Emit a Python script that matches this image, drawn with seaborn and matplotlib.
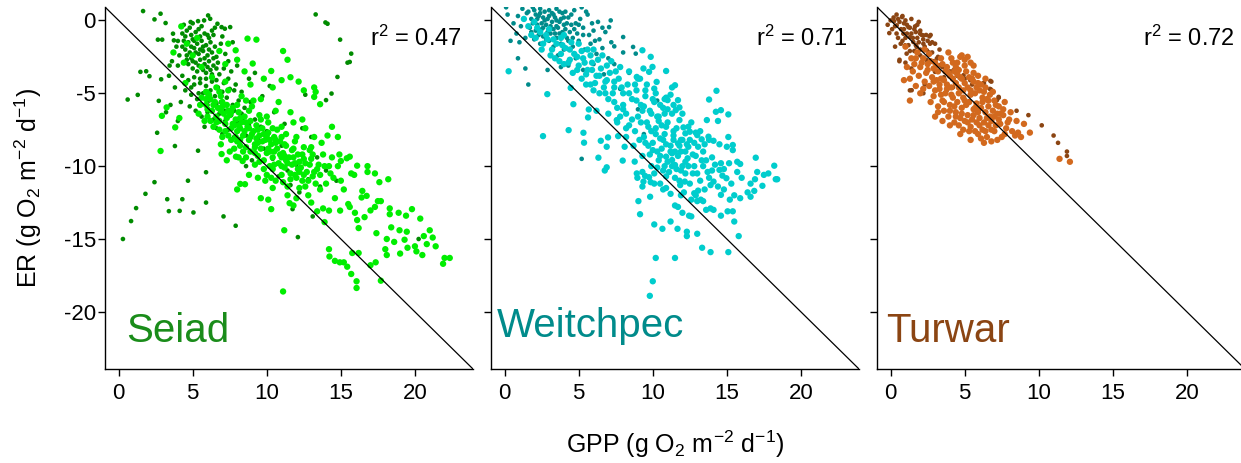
import matplotlib
matplotlib.use("Agg")
import matplotlib.pyplot as plt
import pandas as pd
import seaborn as sns

sns.set_style("ticks")
plt.rcParams["font.family"] = ["Liberation Sans", "DejaVu Sans"]
plt.rcParams["mathtext.fontset"] = "custom"
plt.rcParams["mathtext.rm"] = "Liberation Sans"
plt.rcParams["mathtext.it"] = "Liberation Sans:italic"
plt.rcParams["mathtext.bf"] = "Liberation Sans:bold"
plt.rcParams["axes.unicode_minus"] = False
plt.rcParams["text.color"] = "black"

# ---------------- data (GPP, ER) ----------------
sites = ["Seiad", "Weitchpec", "Turwar"]
r2_values = [0.47, 0.71, 0.72]
x_ticks = [0, 5, 10, 15, 20]
y_ticks = [0, -5, -10, -15, -20]

seiad_dark = [
    (1.65, 0.64), (2.83, 0.46), (2.42, 0.07), (3.17, -0.18), (6.04, 0.34), (6.18, 0.11), (5.77, 0.0),
    (13.3, 0.41), (13.96, -0.14), (14.1, -0.23), (14.95, -1.32), (15.7, -2.28), (15.6, -2.85), (15.45, -2.9),
    (14.77, -3.88), (14.37, -5.02), (14.0, -5.47), (2.65, -1.32), (2.94, -1.32), (1.47, -3.53), (1.86, -3.49),
    (2.08, -3.83), (2.87, -4.04), (3.44, -3.1), (0.61, -5.43), (1.29, -5.11), (2.71, -5.52), (2.6, -7.71),
    (3.8, -8.62), (5.36, -8.94), (5.9, -10.42), (4.68, -11.0), (2.42, -11.1), (1.81, -11.9), (1.18, -12.88),
    (0.84, -13.77), (0.29, -15.0), (3.28, -12.27), (4.3, -12.27), (3.39, -13.09), (4.12, -13.07), (5.05, -13.18),
    (5.9, -12.5), (7.08, -13.45), (7.9, -14.09), (12.1, -14.87), (11.74, -12.95), (13.1, -13.45), (20.25, -15.0),
    (4.86, -0.11), (5.36, -0.05), (6.67, -0.23), (6.95, -0.46), (7.17, -0.57), (7.53, -0.46), (3.67, -0.91),
    (3.73, -1.37), (4.0, -1.41),
    (4.3, -0.9), (4.6, -0.7), (4.9, -1.0), (5.2, -0.8), (5.5, -1.1), (5.8, -0.9), (6.1, -1.2), (6.4, -1.0),
    (4.4, -1.4), (4.7, -1.5), (5.0, -1.3), (5.3, -1.6), (5.6, -1.4), (5.9, -1.7), (6.2, -1.5), (6.5, -1.8),
    (4.5, -2.0), (4.8, -2.2), (5.1, -1.9), (5.4, -2.3), (5.7, -2.1), (6.0, -2.4), (6.3, -2.2), (6.6, -2.5),
    (4.6, -2.7), (4.9, -2.6), (5.2, -2.9), (5.5, -2.7), (5.8, -3.0), (6.1, -2.8), (6.4, -3.1), (6.7, -2.9),
    (5.0, -3.3), (5.3, -3.5), (5.9, -3.6), (6.2, -3.4), (6.8, -3.7), (7.1, -3.3), (6.9, -1.6), (7.2, -2.3),
    (7.4, -2.8), (7.6, -3.5), (4.1, -2.4), (3.9, -1.8), (4.0, -3.1),
    (4.3, -3.8), (4.7, -4.1), (5.1, -4.4), (5.5, -4.0), (5.9, -4.5), (6.3, -4.2), (6.7, -4.6), (7.1, -4.3),
    (7.5, -4.7), (7.9, -4.4), (8.3, -4.9), (4.5, -4.8), (4.9, -5.1), (5.3, -5.4), (5.7, -5.0), (6.1, -5.5),
    (6.5, -5.2), (6.9, -5.6), (7.3, -5.3), (7.7, -5.8), (8.1, -5.5), (8.5, -6.0), (8.9, -5.6), (4.8, -5.9),
    (5.2, -6.2), (5.6, -6.6), (6.0, -6.3), (6.4, -6.8), (6.8, -6.4), (7.2, -6.9), (7.6, -6.5), (8.0, -7.0),
    (8.4, -6.7), (8.8, -7.2), (9.2, -6.8), (9.6, -7.3), (6.6, -7.4), (7.0, -7.8), (7.4, -7.5), (7.8, -8.0),
    (8.6, -7.9), (9.4, -8.1), (10.0, -7.6), (5.8, -7.3), (4.2, -5.6), (3.8, -4.6), (3.5, -5.8), (4.0, -6.9),
    (3.2, -6.3),
    (9.8, -8.8), (10.4, -9.5), (11.0, -8.6), (11.4, -10.3), (12.0, -9.9), (12.4, -7.4), (12.8, -10.9),
    (11.6, -11.3), (10.8, -10.7), (13.4, -9.4), (13.0, -8.0), (9.0, -9.6), (8.6, -10.0), (12.2, -11.8),
    (13.6, -11.4), (10.5, -6.3), (11.2, -7.1), (9.7, -5.2), (8.8, -4.0), (8.0, -3.1), (9.2, -3.6),
    (10.2, -4.5), (12.6, -5.1), (14.0, -10.3), (14.7, -11.0),
    (4.5, -1.1), (4.8, -0.5), (5.1, -1.4), (5.4, -0.6), (5.7, -1.8), (6.0, -1.0), (6.3, -0.7), (4.3, -1.8),
    (4.6, -2.4), (4.9, -1.8), (5.2, -2.2), (5.5, -2.0), (5.8, -2.6), (6.1, -2.0), (6.4, -2.6), (4.7, -3.0),
    (5.0, -2.8), (5.4, -3.1), (5.7, -3.4), (6.0, -3.2), (6.3, -3.7), (6.6, -3.3), (5.1, -3.9), (5.5, -4.3),
    (5.9, -4.0), (6.2, -4.8), (6.6, -4.1), (7.0, -4.9), (7.4, -4.0), (7.8, -4.8), (4.9, -4.6), (5.4, -5.0),
    (6.0, -5.8), (6.6, -5.7), (7.2, -6.2), (7.8, -6.2), (8.3, -6.4), (4.4, -0.3), (5.0, -0.2), (5.6, -0.4),
    (6.5, -0.5), (3.6, -2.8), (3.4, -3.8), (7.0, -1.1), (7.7, -1.5),
]

seiad_light = [
    (4.23, -0.41), (2.92, -6.55), (3.24, -5.97), (4.1, -6.7), (3.82, -7.34), (2.83, -8.96), (8.21, -11.22),
    (8.53, -11.24), (6.95, -9.17), (7.92, -9.35), (8.37, -9.65), (11.1, -18.6), (11.18, -14.4), (11.54, -12.54),
    (10.3, -12.95), (10.1, -12.3), (13.9, -13.84), (13.4, -13.1), (14.2, -13.05), (14.95, -13.05), (15.5, -12.6),
    (15.95, -13.2), (16.1, -13.7), (16.2, -14.25), (14.2, -15.7), (14.23, -16.2), (14.6, -16.5), (14.93, -16.6),
    (15.2, -16.6), (15.43, -16.9), (15.7, -17.4), (16.06, -17.9), (16.06, -18.36), (15.77, -15.96), (16.2, -15.96),
    (17.0, -16.8), (17.35, -16.6), (17.7, -17.86), (18.0, -15.7), (18.1, -16.1), (18.1, -15.0), (18.6, -15.2),
    (17.0, -13.04), (17.3, -12.8), (17.5, -12.4), (17.7, -12.4), (18.3, -13.3), (18.3, -12.9), (18.9, -13.2),
    (19.4, -13.4), (19.8, -12.95), (20.36, -13.6), (18.96, -14.4), (19.45, -14.5), (19.3, -15.05), (19.5, -15.6),
    (20.0, -15.5), (20.1, -15.85), (20.5, -16.1), (20.6, -14.8), (21.0, -14.4), (21.2, -14.9), (21.4, -15.5),
    (20.8, -15.35), (21.9, -16.7), (22.0, -16.3), (22.35, -16.3), (18.2, -10.9), (17.6, -11.1), (17.3, -10.5),
    (16.8, -10.4), (16.8, -10.0), (16.45, -11.7), (16.74, -12.04), (16.4, -12.15), (16.1, -9.97), (15.7, -10.5),
    (15.9, -10.6), (14.9, -9.2), (15.0, -9.65), (14.8, -10.0), (15.4, -9.46), (15.6, -9.35), (14.4, -7.3),
    (14.8, -8.0), (14.1, -7.9), (13.6, -5.75), (13.2, -5.25), (13.2, -4.6), (13.3, -4.9), (12.5, -4.8),
    (12.15, -4.2), (11.6, -3.9), (11.1, -2.1), (11.4, -2.7), (10.3, -3.47), (11.0, -4.1), (10.4, -4.6),
    (8.7, -1.25), (9.05, -2.96), (9.3, -1.32), (7.9, -2.05), (7.4, -1.6), (9.8, -4.0),
    (4.6, -1.6), (5.0, -2.4), (5.3, -1.2), (4.4, -2.9), (5.6, -3.2), (6.3, -3.9), (6.8, -2.1), (7.2, -3.0),
    (8.0, -2.7), (8.5, -3.5), (8.9, -4.4), (3.7, -2.2), (5.9, -4.9), (4.5, -4.3),
    (5.6, -5.3), (5.9, -5.8), (6.1, -5.1), (6.3, -6.2), (6.0, -6.6), (6.5, -5.6), (6.7, -6.0), (6.9, -5.2),
    (7.1, -6.4), (6.8, -6.9), (7.3, -5.8), (7.5, -6.5), (7.2, -7.1), (7.7, -6.0), (7.9, -6.8), (7.6, -7.4),
    (8.1, -6.3), (8.3, -7.0), (8.0, -7.6), (8.5, -6.6), (8.7, -7.3), (8.4, -7.9), (8.9, -6.9), (9.1, -7.6),
    (8.8, -8.2), (9.3, -7.2), (9.5, -7.9), (9.2, -8.5), (9.7, -7.4), (9.9, -8.2), (9.6, -8.8), (10.1, -7.7),
    (10.3, -8.5), (10.0, -9.1), (10.5, -8.0), (10.7, -8.8), (10.4, -9.4), (10.9, -8.3), (11.1, -9.1),
    (10.8, -9.8), (11.3, -8.6), (11.5, -9.4), (11.2, -10.1), (11.7, -8.9), (11.9, -9.8), (11.6, -10.5),
    (12.1, -9.2), (12.3, -10.1), (12.0, -10.8), (12.5, -9.5), (12.7, -10.4), (12.4, -11.0), (12.9, -9.9),
    (13.1, -10.7), (13.4, -10.2), (13.3, -11.2),
    (7.0, -8.0), (8.2, -8.6), (9.4, -9.3), (6.4, -7.3), (5.8, -6.9), (10.2, -10.0), (11.0, -10.6), (12.2, -11.5),
    (9.0, -5.9), (10.0, -6.6), (11.0, -7.3), (12.0, -8.0), (13.0, -8.7), (12.6, -7.4), (11.8, -7.0), (10.6, -6.2),
    (13.8, -9.2), (14.2, -10.0), (13.6, -11.6), (12.8, -12.0), (11.4, -11.4), (10.6, -11.0), (9.8, -10.2),
    (8.6, -9.4), (7.8, -8.8), (14.5, -10.8), (15.0, -11.0), (13.2, -8.0), (12.4, -6.8), (11.6, -6.3),
    (10.8, -5.6), (9.6, -5.4), (8.6, -5.5), (7.4, -4.8), (6.6, -4.6), (7.2, -4.2),
    (6.2, -5.4), (6.6, -6.6), (7.4, -6.2), (7.8, -7.2), (8.2, -7.4), (8.6, -7.0), (9.0, -7.8), (9.4, -8.4),
    (9.8, -7.8), (10.2, -8.2), (10.6, -8.4), (11.0, -9.4), (11.4, -9.8), (11.8, -9.4), (12.2, -10.4),
    (12.6, -9.8), (11.0, -8.0), (10.4, -7.4), (9.6, -6.8), (8.8, -6.2), (8.0, -5.8), (7.0, -5.6), (6.8, -4.9),
    (12.8, -11.0), (13.6, -10.6), (14.0, -11.2), (11.4, -12.0), (10.4, -11.5), (9.4, -10.8), (8.8, -10.6),
    (12.9, -8.9), (13.7, -8.4), (14.4, -9.4), (8.4, -9.0), (7.6, -8.2), (7.3, -9.6), (9.2, -9.9), (10.0, -10.6),
    (12.0, -12.2), (13.0, -12.5), (11.8, -12.7), (14.6, -12.2), (15.2, -11.6), (15.6, -12.8), (16.6, -13.5),
    (17.4, -14.6), (18.4, -14.2), (19.0, -16.0), (13.8, -12.9), (8.0, -11.6), (9.6, -12.2),
    (6.4, -5.8), (6.9, -6.2), (7.3, -6.7), (7.7, -7.1), (8.1, -7.2), (8.5, -7.6), (8.9, -8.0), (9.3, -8.1),
    (9.7, -8.3), (10.1, -8.8), (10.5, -9.0), (10.9, -9.2), (11.3, -9.6), (11.7, -9.9), (12.1, -10.2),
    (12.5, -10.6), (6.2, -6.9), (6.8, -7.5), (7.4, -7.9), (8.0, -8.3), (8.6, -8.7), (9.2, -9.1), (9.8, -9.6),
    (10.4, -10.2), (11.0, -10.0), (11.6, -10.9), (7.0, -5.9), (7.6, -6.3), (8.2, -6.7), (8.8, -7.4), (9.4, -7.5),
    (10.0, -7.9), (10.6, -8.2), (11.2, -8.5), (11.8, -8.8), (12.4, -9.2), (13.0, -9.5), (13.5, -9.9),
    (9.5, -6.5), (10.1, -7.0), (10.7, -7.5), (11.3, -7.8), (11.9, -8.3), (12.5, -8.7), (13.1, -9.2), (8.3, -5.2),
    (9.1, -5.5), (6.0, -5.0), (5.5, -5.8), (5.4, -6.4), (6.9, -8.5), (7.5, -9.0), (8.1, -9.4), (10.3, -10.8),
    (11.1, -11.1), (11.9, -10.6), (12.6, -11.4), (13.9, -10.0), (14.3, -10.5), (9.9, -11.0), (8.9, -9.0),
    (7.9, -8.0), (9.5, -9.7), (10.5, -9.9), (13.2, -10.4), (12.2, -9.7), (11.2, -9.3), (10.2, -9.0), (9.2, -8.7),
    (8.2, -8.2), (7.2, -7.6), (6.6, -7.0), (6.0, -6.1), (5.9, -5.4),
]

weitchpec_dark = [
    (0.1, 0.9), (0.2, 0.4), (0.6, -0.2), (0.9, 0.3), (1.2, 0.8), (1.5, 0.5), (1.8, 0.1), (2.0, 0.7), (2.3, 0.3),
    (2.5, -0.2), (2.7, 0.6), (2.9, 0.1), (3.1, -0.4), (3.3, 0.4), (3.5, 0.8), (3.7, -0.1), (3.9, 0.5), (4.1, -0.6),
    (4.3, 0.2), (4.5, -0.3), (4.7, 0.7), (4.9, -0.9), (5.1, 0.1), (5.3, -0.5), (5.5, 0.6), (2.1, -0.7),
    (2.6, -1.1), (3.0, -1.4), (3.4, -0.9), (3.8, -1.6), (4.2, -1.2), (4.6, -1.8), (5.0, -1.4), (5.4, -2.0),
    (5.8, -1.6), (6.2, -2.3), (6.6, -1.9), (7.0, -2.6), (7.4, -3.0), (1.7, -0.5), (1.4, -1.2), (2.4, -1.6),
    (1.0, -1.5), (0.4, -1.4), (0.9, -2.6), (1.4, -3.3), (1.6, -4.4), (2.9, -3.4), (3.8, -3.2), (4.3, -3.1),
    (5.3, -3.4), (6.7, -3.7), (7.8, -4.7), (5.2, -9.5), (9.4, -7.8), (6.8, -0.8), (7.2, -1.5), (8.0, -2.2),
    (5.2, 0.9), (5.6, 0.4), (7.05, -0.46), (7.16, 0.0), (8.0, -1.14), (8.67, -1.82), (8.85, -2.28), (7.4, -1.78),
    (2.2, 0.1), (2.4, 0.5), (2.6, 0.2), (2.8, -0.3), (3.0, 0.3), (3.2, -0.1), (3.4, 0.2), (3.6, -0.5),
    (3.8, 0.1), (4.0, -0.3), (2.5, -0.6), (2.9, -0.8), (3.3, -0.6), (3.7, -0.9), (4.1, 0.6), (4.4, -0.8),
    (1.9, -0.2), (2.3, -1.0), (3.5, -1.2), (4.8, -0.2), (6.0, -0.7), (6.4, -1.3), (5.7, -1.0), (8.4, -3.6),
    (6.0, -3.0), (10.3, -5.5), (9.0, -6.1), (13.0, -7.8),
    (1.6, 0.6), (1.9, 0.9), (2.1, 0.4), (2.4, 0.8), (2.7, 0.0), (3.0, 0.7), (3.2, 0.5), (3.5, 0.0), (3.7, 0.6),
    (4.0, 0.2), (4.2, -0.2), (4.5, 0.4), (4.7, -0.6), (5.0, -0.3), (2.2, -0.3), (2.6, -0.5), (3.1, -0.9),
    (3.5, -0.4), (3.9, -0.8), (4.3, -1.4), (1.8, -0.8), (2.0, -1.3), (2.8, -1.3), (3.3, -1.8), (4.0, -2.0),
    (4.6, -1.2), (5.3, -1.0), (5.9, -0.2), (6.3, -0.1), (6.6, -0.5), (1.1, -0.4), (0.8, -0.9), (3.6, -2.4),
    (4.8, -2.6), (6.1, -1.4),
]

weitchpec_light = [
    (0.27, -3.49), (2.88, -5.06), (2.59, -7.94), (4.32, -7.53), (4.64, -5.75), (4.46, -4.63), (5.36, -8.39),
    (5.32, -7.71), (6.33, -9.42), (6.76, -10.3), (6.89, -10.08), (6.49, -8.26), (6.98, -8.03), (6.89, -8.67),
    (5.63, -6.66), (5.68, -6.11), (7.66, -7.94), (7.57, -6.84), (8.1, -8.67), (7.97, -9.62), (8.78, -9.69),
    (9.03, -12.4), (9.14, -13.3), (8.92, -10.5), (9.3, -11.4), (9.82, -12.1), (9.86, -11.1), (10.1, -11.2),
    (10.1, -14.0), (10.65, -14.3), (11.2, -13.8), (10.2, -16.3), (11.5, -16.3), (10.0, -17.9), (9.8, -18.9),
    (11.67, -14.3), (12.3, -14.5), (12.3, -14.8), (13.0, -14.64), (13.33, -15.6), (13.9, -15.9), (15.1, -15.9),
    (15.8, -14.8), (11.5, -12.7), (11.7, -12.8), (12.0, -13.2), (12.45, -13.4), (12.6, -13.45), (14.6, -13.4),
    (15.05, -13.1), (15.4, -13.1), (15.5, -13.8), (13.6, -13.0), (13.9, -12.9), (14.1, -13.0), (16.6, -12.1),
    (16.85, -11.7), (16.6, -11.2), (15.9, -12.2), (15.5, -12.0), (14.6, -11.97), (14.8, -11.6), (15.2, -12.3),
    (16.95, -9.42), (18.2, -9.97), (18.4, -10.9), (18.3, -10.9), (17.5, -10.6), (17.05, -10.4), (17.4, -11.35),
    (15.1, -8.0), (15.4, -8.55), (15.4, -8.9), (15.0, -8.67), (14.3, -4.83), (14.26, -6.27), (14.6, -6.16),
    (15.1, -6.45), (14.4, -6.9), (13.8, -5.43), (13.65, -6.84), (15.15, -9.8), (15.7, -9.7), (15.9, -9.85),
    (15.7, -10.4), (13.06, -8.67), (13.3, -8.16), (13.76, -7.98), (14.1, -8.26), (14.5, -8.5), (12.8, -10.0),
    (13.4, -10.0), (13.7, -10.4), (14.0, -10.3), (14.5, -10.26), (14.7, -10.65), (14.97, -10.83), (14.1, -11.06),
    (13.9, -11.3), (13.5, -11.6), (12.5, -11.2), (12.16, -11.06), (11.85, -11.3), (12.8, -11.86), (13.06, -11.68),
    (13.24, -12.3), (13.4, -12.4), (13.0, -12.4), (12.2, -10.5), (12.7, -10.5), (11.9, -10.3), (11.5, -9.92),
    (11.1, -10.4), (10.8, -10.0), (11.3, -10.0), (10.5, -11.2), (10.7, -11.6), (10.9, -11.5), (10.1, -10.5),
    (9.75, -10.76), (9.48, -10.67), (9.37, -11.06), (8.96, -10.8), (9.3, -10.4), (9.3, -2.05), (9.86, -2.5),
    (9.98, -3.19), (9.75, -3.53), (9.37, -3.3), (8.92, -3.88), (9.14, -4.0), (10.9, -3.47), (10.1, -4.68),
    (10.26, -4.22), (11.3, -4.6), (11.5, -4.45), (11.2, -5.1), (11.0, -5.47), (11.7, -5.47), (11.8, -5.97),
    (11.55, -6.16), (10.9, -5.3), (10.8, -6.4), (10.3, -6.6), (11.8, -6.84), (12.4, -7.3), (12.5, -7.64),
    (12.07, -7.34), (12.9, -7.7), (13.0, -7.87), (12.2, -7.75), (12.4, -8.67), (11.7, -8.44), (11.9, -9.0),
    (11.3, -9.12), (10.9, -9.35), (11.3, -9.58), (12.35, -9.46),
    (1.6, -0.4), (1.8, -1.0), (2.1, -1.2), (2.4, -0.8), (2.6, -1.6), (2.9, -1.3), (3.2, -2.0), (3.5, -1.6),
    (3.8, -2.3), (4.1, -1.9), (4.4, -2.7), (4.7, -2.3), (5.0, -3.1), (5.3, -2.6), (5.6, -3.4), (5.9, -2.9),
    (6.2, -3.8), (6.5, -3.3), (6.8, -4.2), (7.1, -3.6), (7.4, -4.6), (7.7, -4.0), (8.0, -5.0), (8.3, -4.4),
    (8.6, -5.4), (8.9, -4.8), (9.2, -5.8), (9.5, -5.2), (9.8, -6.2), (10.1, -5.6), (10.4, -6.6), (10.7, -6.0),
    (11.0, -7.0), (11.3, -6.4), (11.6, -7.4), (9.0, -6.6), (9.6, -7.0), (10.2, -7.4), (10.8, -7.8), (11.4, -8.2),
    (9.4, -8.0), (10.0, -8.4), (10.6, -8.8), (11.2, -9.0), (9.8, -9.2), (10.4, -9.6), (11.8, -8.6), (12.2, -9.0),
    (8.4, -7.2), (8.8, -7.6), (7.6, -6.0), (8.2, -6.4), (7.0, -5.4), (6.4, -5.0), (5.8, -4.4), (5.2, -4.0),
    (4.6, -3.6), (4.0, -3.0), (3.4, -2.6), (6.0, -2.0), (6.6, -2.4), (7.2, -2.8), (7.8, -3.2), (8.4, -3.5),
    (9.0, -4.0), (9.6, -4.4), (10.2, -5.0), (10.8, -5.4), (11.4, -5.8), (12.0, -6.4), (12.6, -7.0), (13.2, -7.6),
    (13.8, -8.2), (12.8, -8.4), (13.4, -9.0), (14.0, -9.4), (14.6, -9.8), (2.0, -0.1), (1.3, 0.1), (3.0, -0.6),
    (4.0, -1.0), (5.0, -1.6), (5.6, -2.0),
    (9.9, -7.6), (10.5, -8.1), (10.9, -8.5), (10.3, -9.0), (9.7, -8.6), (9.1, -8.2), (9.9, -10.0), (10.7, -10.3),
    (11.5, -10.8), (12.1, -11.8), (13.2, -11.0), (12.6, -12.3), (11.9, -12.0), (11.2, -11.9), (14.4, -11.4),
    (13.6, -9.6), (12.9, -9.3), (12.5, -8.2), (10.6, -7.2), (9.3, -6.2), (8.6, -6.8), (8.0, -5.8), (7.3, -5.0),
    (6.7, -4.6), (6.1, -4.3), (5.5, -3.7), (4.9, -3.4), (4.3, -2.9), (3.7, -2.8), (3.1, -2.4), (2.5, -2.0),
    (7.6, -7.0), (8.2, -8.0), (7.0, -6.4), (6.2, -6.2), (11.4, -7.6), (12.0, -8.2),
    (2.2, -0.5), (2.8, -1.0), (3.3, -1.3), (3.9, -1.7), (4.4, -2.0), (4.9, -2.5), (5.4, -2.9), (5.9, -3.4),
    (6.4, -3.8), (6.9, -4.1), (7.4, -4.2), (7.9, -4.6), (8.4, -5.0), (8.9, -5.5), (9.4, -5.9), (9.9, -6.4),
    (10.4, -6.9), (10.9, -7.3), (11.4, -7.9), (11.9, -8.2), (9.2, -7.0), (9.7, -7.3), (10.2, -7.8), (10.7, -8.2),
    (11.2, -8.6), (11.7, -9.3), (12.2, -9.7), (9.5, -8.4), (10.0, -8.9), (10.5, -9.3), (11.0, -9.7), (11.5, -9.0),
    (12.0, -10.0), (10.3, -10.1), (10.9, -10.7), (11.6, -10.2), (12.4, -10.0), (13.0, -10.5), (12.7, -9.2),
    (13.3, -9.6), (12.3, -8.5), (11.0, -6.1), (10.5, -5.8), (10.0, -5.4), (9.5, -4.8), (8.8, -4.4), (7.5, -3.5),
    (6.9, -3.1), (6.3, -2.7), (5.8, -2.4), (5.2, -2.1), (4.5, -1.5), (3.8, -1.2), (8.0, -6.1), (7.4, -5.6),
    (6.8, -5.0), (6.0, -4.8), (5.5, -4.4), (9.3, -9.3), (8.7, -8.6), (8.2, -7.4), (7.8, -6.6), (13.8, -10.8),
    (14.2, -9.9), (12.9, -12.0), (11.8, -11.0), (13.5, -8.5), (14.8, -10.2), (16.0, -10.8), (16.4, -11.8),
    (16.9, -10.9), (17.8, -10.5), (15.3, -11.2),
]

turwar_dark = [
    (0.0, 0.0), (-0.2, -0.3), (0.3, -0.4), (0.5, 0.1), (0.7, -0.6), (0.9, -0.2), (1.1, -0.9), (1.3, -0.5),
    (1.5, -1.2), (1.7, -0.8), (1.9, -1.5), (2.1, -1.0), (2.3, -1.8), (2.5, -1.4), (0.8, -1.4), (1.2, -1.7),
    (1.6, -2.1), (2.0, -2.4), (2.4, -2.7), (2.8, -2.2), (3.2, -2.5), (0.6, -2.7), (1.0, -2.9), (1.4, -3.3),
    (0.8, 0.3), (0.2, 0.2), (1.0, 0.0), (1.8, -0.3), (2.7, -1.0), (3.0, -1.6), (4.0, -3.5), (4.5, -3.8),
    (5.0, -4.0), (5.5, -4.4), (5.8, -4.6), (6.3, -4.3), (6.7, -4.7), (6.8, -4.2), (7.3, -5.3), (1.3, -4.8),
    (8.5, -6.2), (9.3, -6.5), (10.2, -7.2), (11.0, -7.9), (11.3, -8.4), (11.9, -9.0), (11.9, -9.3), (3.6, -3.9),
    (4.2, -4.6), (1.9, -3.8), (2.3, -4.4),
    (-0.09, -0.87), (0.23, -0.05), (0.77, 0.23), (0.41, -0.34), (1.2, -0.46), (1.65, -0.41), (1.99, -0.91),
    (2.21, -1.03), (2.62, -1.1), (0.86, -0.91), (1.31, -1.14), (1.53, -1.48), (0.97, -1.71), (0.68, -1.6),
    (0.59, -2.8), (1.08, -2.28), (1.76, -1.82), (2.21, -1.6), (2.66, -1.6), (2.44, -2.05), (3.12, -2.62),
    (3.34, -3.08), (3.0, -3.53), (2.21, -5.0), (1.42, -4.79), (4.24, -3.42), (5.82, -4.6), (6.28, -4.29),
    (6.73, -4.15), (6.77, -4.74), (7.29, -5.25), (7.18, -5.47), (5.37, -4.1), (4.92, -3.76), (3.79, -4.79),
    (0.1, -0.6), (0.4, -0.9), (0.6, -0.1), (0.9, -0.6), (1.1, -0.3), (1.4, -0.9), (1.6, -0.6), (1.8, -1.2),
    (2.0, -0.7), (2.2, -1.3), (2.4, -1.0), (0.5, -1.2), (1.0, -1.2), (1.3, -2.1), (1.7, -1.7), (2.0, -2.0),
    (2.6, -2.2), (2.9, -2.8), (0.3, -1.8), (0.4, 0.4), (1.4, 0.1), (1.9, -0.1), (2.8, -1.5), (3.3, -2.0),
    (3.5, -3.2),
]

turwar_light = [
    (1.8, -2.2), (2.2, -2.6), (2.6, -2.3), (3.0, -2.9), (3.4, -2.6), (3.8, -3.2), (4.2, -2.9), (4.6, -3.4),
    (5.0, -3.1), (5.2, -2.5), (4.8, -2.4), (2.0, -3.2), (2.4, -3.6), (2.8, -3.9), (3.2, -3.5), (3.6, -4.1),
    (4.0, -3.8), (4.4, -4.3), (4.8, -4.0), (5.2, -4.6), (5.6, -4.2), (6.0, -4.8), (2.6, -4.5), (3.0, -4.8),
    (3.4, -5.1), (3.8, -4.7), (4.2, -5.3), (4.6, -5.0), (5.0, -5.5), (5.4, -5.1), (5.8, -5.7), (6.2, -5.3),
    (6.6, -5.9), (7.0, -5.5), (3.2, -5.9), (3.6, -6.2), (4.0, -5.8), (4.4, -6.3), (4.8, -6.0), (5.2, -6.5),
    (5.6, -6.1), (6.0, -6.7), (6.4, -6.3), (6.8, -6.9), (7.2, -6.4), (7.6, -6.1), (4.6, -7.2), (5.0, -6.9),
    (5.4, -7.3), (5.8, -7.0), (6.2, -7.5), (6.6, -7.2), (7.0, -7.6), (7.4, -7.1), (7.8, -7.4), (8.2, -7.6),
    (8.6, -7.7), (9.0, -7.1), (9.4, -7.7), (4.7, -7.8), (6.5, -8.0), (6.8, -8.3), (7.2, -8.2), (11.4, -9.5),
    (12.1, -9.7), (1.3, -5.5), (0.9, -4.1), (1.3, -4.0), (2.0, -5.0), (3.9, -2.2), (4.7, -2.5), (5.4, -2.9),
    (1.0, -1.8), (1.4, -2.6), (7.6, -6.5), (7.9, -7.0), (8.4, -7.9), (3.0, -6.6), (2.7, -5.6),
    (2.3, -2.0), (2.9, -3.3), (3.3, -4.4), (3.7, -3.5), (4.1, -4.6), (4.5, -3.7), (4.9, -4.8), (5.3, -3.9),
    (5.7, -5.0), (6.1, -4.4), (6.5, -5.4), (6.9, -4.9), (3.5, -5.5), (3.9, -6.6), (4.3, -5.9), (4.7, -6.7),
    (5.1, -5.8), (5.5, -6.8), (5.9, -6.3), (6.3, -7.0), (6.7, -6.6), (7.1, -7.2), (5.3, -7.6), (5.9, -7.8),
    (4.3, -7.0), (3.5, -6.9), (2.3, -4.2), (1.9, -3.8), (1.6, -3.0), (2.5, -3.0), (3.1, -4.1), (4.4, -3.2),
    (5.6, -3.6), (6.4, -4.6), (7.3, -5.9), (8.0, -6.8), (7.7, -7.8), (6.1, -8.1), (5.4, -8.2), (8.8, -8.0),
    (2.7, -2.8), (3.1, -3.1), (3.5, -3.0), (3.9, -3.6), (4.3, -3.5), (4.7, -3.9), (5.1, -3.5), (5.5, -4.0),
    (5.9, -4.3), (6.3, -4.9), (6.7, -5.1), (7.1, -5.8), (2.9, -4.2), (3.3, -4.7), (3.7, -5.0), (4.1, -5.1),
    (4.5, -5.6), (4.9, -5.3), (5.3, -5.6), (5.7, -6.0), (6.1, -6.0), (6.5, -6.7), (6.9, -6.2), (7.3, -6.8),
    (3.6, -5.6), (4.0, -6.2), (4.4, -6.6), (4.8, -6.4), (5.2, -7.0), (5.6, -6.5), (6.0, -7.2), (6.4, -7.6),
    (6.8, -7.5), (3.4, -4.0), (3.8, -4.4), (4.2, -4.0), (4.6, -4.6), (5.0, -4.3), (5.4, -4.8), (5.8, -4.6),
    (6.2, -5.6), (6.6, -5.5), (7.0, -6.6), (7.4, -6.4), (2.1, -2.9), (2.5, -3.4), (1.7, -2.6), (1.5, -3.5),
    (1.1, -3.2), (4.1, -2.6), (4.5, -2.9), (5.0, -2.7), (5.6, -3.1), (5.9, -3.8), (6.4, -4.0), (7.7, -5.6),
    (8.1, -6.3), (8.5, -6.9), (3.2, -6.3), (2.9, -5.2), (2.2, -4.7), (1.7, -4.5), (4.0, -7.2), (4.9, -7.5),
    (5.7, -7.6), (7.5, -8.0), (6.3, -8.4),
]

site_data = {
    "Seiad": (seiad_dark, seiad_light),
    "Weitchpec": (weitchpec_dark, weitchpec_light),
    "Turwar": (turwar_dark, turwar_light),
}

dark_colors = ["#008B00", "#008B8B", "#8B4513"]
light_colors = ["#00EE00", "#00CDCD", "#D2691E"]
label_colors = ["#1A8C1A", "#008B8B", "#8B4513"]
label_pos = [(0.057, 0.075), (0.016, 0.088), (0.024, 0.075)]

fig = plt.figure(figsize=(12.41, 4.63), dpi=100)
lefts = [105 / 1241, 491 / 1241, 877 / 1241]
width = 368 / 1241
bottom = 1 - 369 / 463
height = 362 / 463

for i, site in enumerate(sites):
    ax = fig.add_axes([lefts[i], bottom, width, height])
    dark, light = site_data[site]
    df_dark = pd.DataFrame(dark, columns=["GPP", "ER"])
    df_light = pd.DataFrame(light, columns=["GPP", "ER"])
    sns.scatterplot(data=df_dark, x="GPP", y="ER", ax=ax, color=dark_colors[i],
                    s=11, linewidth=0, edgecolor="none", zorder=2)
    sns.scatterplot(data=df_light, x="GPP", y="ER", ax=ax, color=light_colors[i],
                    s=21, linewidth=0, edgecolor="none", zorder=3)
    ax.axline((0, 0), slope=-1, color="black", lw=0.9, zorder=4)
    ax.set_xlim(-0.92, 23.92)
    ax.set_ylim(-23.92, 0.92)
    ax.set_xticks(x_ticks)
    ax.set_yticks(y_ticks)
    ax.set_xticklabels([str(v) for v in x_ticks])
    if i == 0:
        ax.set_yticklabels([str(v) for v in y_ticks])
    else:
        ax.set_yticklabels([])
    ax.tick_params(axis="both", direction="out", length=5, width=1, color="black",
                   labelsize=16, labelcolor="black")
    ax.tick_params(axis="x", pad=5)
    ax.tick_params(axis="y", pad=1.5)
    ax.set_xlabel("")
    ax.set_ylabel("")
    for side in ["top", "right"]:
        ax.spines[side].set_visible(False)
    for side in ["left", "bottom"]:
        ax.spines[side].set_color("black")
        ax.spines[side].set_linewidth(1)
    ax.text(0.97, 0.913, r"r$^2$ = %.2f" % r2_values[i], transform=ax.transAxes,
            ha="right", va="center", fontsize=17, color="black")
    ax.text(label_pos[i][0], label_pos[i][1], site, transform=ax.transAxes,
            ha="left", va="baseline", fontsize=29, color=label_colors[i])

fig.text(0.544, 0.022, r"GPP (g O$_2$ m$^{-2}$ d$^{-1}$)", ha="center", va="baseline",
         fontsize=18, color="black")
fig.text(0.023, 0.595, r"ER (g O$_2$ m$^{-2}$ d$^{-1}$)", ha="center", va="center",
         rotation=90, fontsize=18, color="black")

fig.savefig("out.png", dpi=100)
